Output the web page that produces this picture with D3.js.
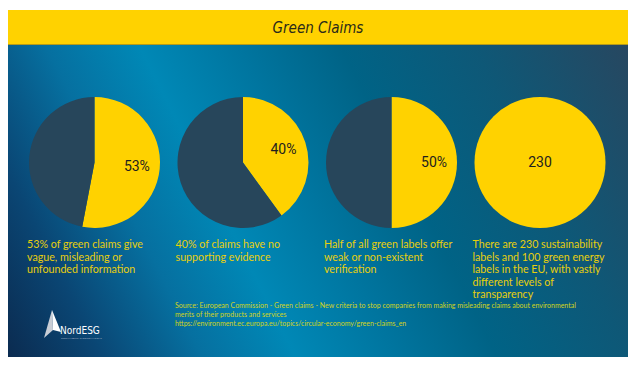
<!DOCTYPE html>
<html><head><meta charset="utf-8">
<script src="https://cdn.jsdelivr.net/npm/d3@7/dist/d3.min.js"></script>
<style>html,body{margin:0;padding:0;background:#fff;}svg{display:block;}</style>
</head><body>
<script>
const title = "Green Claims";
const categories = ["Vague or misleading claims","No supporting evidence","Weak verification","Sustainability labels"];
const shares = [53, 40, 50, 100];
const valueLabels = ["53%", "40%", "50%", "230"];
const captions = [
  ["53% of green claims give", "vague, misleading or", "unfounded information"],
  ["40% of claims have no", "supporting evidence"],
  ["Half of all green labels offer", "weak or non-existent", "verification"],
  ["There are 230 sustainability", "labels and 100 green energy", "labels in the EU, with vastly", "different levels of", "transparency"]
];
const sourceLines = [
  "Source: European Commission - Green claims - New criteria to stop companies from making misleading claims about environmental",
  "merits of their products and services",
  "https://environment.ec.europa.eu/topics/circular-economy/green-claims_en"
];

const W = 636, H = 366;
const frame = {x0: 8, x1: 628, y0: 10, y1: 357, band: 45};
const YEL = "#ffd200", DARK = "#27465b";

const svg = d3.select("body").append("svg").attr("width", W).attr("height", H);
const defs = svg.append("defs");
const g = defs.append("linearGradient").attr("id","bg").attr("gradientUnits","userSpaceOnUse")
  .attr("x1", frame.x0).attr("y1", frame.y1).attr("x2", frame.x1).attr("y2", frame.band);
[[0,"#0b2b50"],[0.12,"#0a4674"],[0.25,"#0670a0"],[0.37,"#0088b6"],[0.5,"#00759f"],[0.63,"#006386"],[0.8,"#0e5877"],[1,"#274760"]]
  .forEach(([o,c]) => g.append("stop").attr("offset", o).attr("stop-color", c));

svg.append("rect").attr("x", frame.x0).attr("y", frame.band).attr("width", frame.x1-frame.x0)
  .attr("height", frame.y1-frame.band).attr("fill","url(#bg)");
svg.append("rect").attr("x", frame.x0).attr("y", frame.y0).attr("width", frame.x1-frame.x0)
  .attr("height", frame.band-frame.y0).attr("fill", YEL);
svg.append("rect").attr("x", frame.x0).attr("y", frame.band-1).attr("width", frame.x1-frame.x0)
  .attr("height", 1).attr("fill", "#b59a1a");
svg.append("text").attr("x", (frame.x0+frame.x1)/2).attr("y", 32.5).attr("text-anchor","middle")
  .attr("font-family","'Liberation Sans Narrow','DejaVu Sans Condensed',sans-serif").attr("font-style","italic")
  .attr("font-size", 15).attr("fill","#2a2a1a").text(title);

const x = d3.scalePoint().domain(categories).range([94.5, 540]);
const R = 65.5, cy = 162.5;
const pie = d3.pie().sort(null).value(d => d);
const arc = d3.arc().innerRadius(0).outerRadius(R);
const labelArc = d3.arc().innerRadius(R*0.65).outerRadius(R*0.65);

categories.forEach((c, i) => {
  const gg = svg.append("g").attr("transform", `translate(${x(c)},${cy})`);
  const data = pie([shares[i], 100 - shares[i]]);
  gg.selectAll("path").data(data).join("path")
    .attr("d", arc).attr("fill", (d, j) => j === 0 ? YEL : DARK);
  const pos = shares[i] >= 100 ? [0, 0] : labelArc.centroid(data[0]);
  gg.append("text").attr("x", pos[0]).attr("y", pos[1]).attr("dy","0.35em").attr("text-anchor","middle")
    .attr("font-family","Roboto, sans-serif").attr("font-size", 14).attr("fill","#1e1e1e").text(valueLabels[i]);
  const t = svg.append("text").attr("x", x(c) - R - 2).attr("y", 248)
    .attr("font-family","Lato, sans-serif").attr("font-size", 10.7).attr("fill","#e8cf0c");
  captions[i].forEach((line, k) => t.append("tspan").attr("x", x(c) - R - 2).attr("dy", k ? 12.5 : 0).text(line));
});

const st = svg.append("text").attr("font-family","Lato, sans-serif").attr("font-size", 7).attr("fill","#d2d41c");
sourceLines.forEach((l, k) => st.append("tspan").attr("x", 175).attr("y", 308 + k*9).text(l));

const lg = svg.append("g");
lg.append("path").attr("d","M52,310 L44,338 L53,330 Z").attr("fill","#c9ced6");
lg.append("path").attr("d","M52,310 L53,330 L61,332 Z").attr("fill","#ffffff");
lg.append("text").attr("x", 60).attr("y", 334).attr("font-family","'Liberation Sans Narrow','DejaVu Sans Condensed',sans-serif")
  .attr("font-size", 10).attr("fill","#ffffff").text("NordESG");
lg.append("text").attr("x", 61).attr("y", 338.5).attr("font-family","Lato,sans-serif")
  .attr("font-size", 2.4).attr("fill","#b0bccb").text("SUSTAINABILITY THROUGH INSIGHT");
</script>
</body></html>
